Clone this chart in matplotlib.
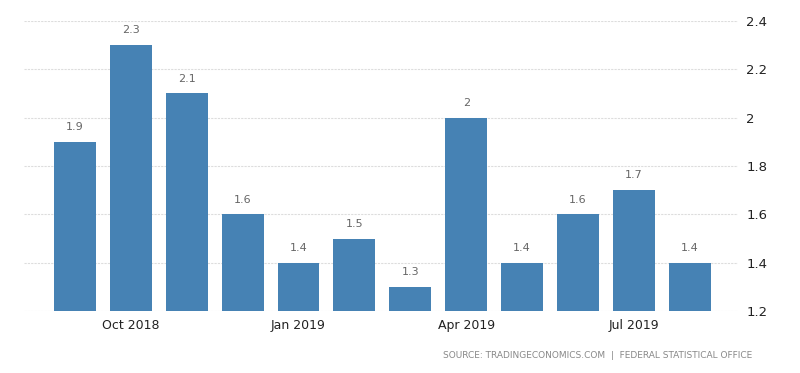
import numpy as np
import matplotlib.pyplot as plt

# data
months = ["Sep 2018", "Oct 2018", "Nov 2018", "Dec 2018", "Jan 2019", "Feb 2019",
          "Mar 2019", "Apr 2019", "May 2019", "Jun 2019", "Jul 2019", "Aug 2019"]
values = [1.9, 2.3, 2.1, 1.6, 1.4, 1.5, 1.3, 2.0, 1.4, 1.6, 1.7, 1.4]
value_labels = ["1.9", "2.3", "2.1", "1.6", "1.4", "1.5", "1.3", "2", "1.4", "1.6", "1.7", "1.4"]
tick_months = ["Oct 2018", "Jan 2019", "Apr 2019", "Jul 2019"]
yticks = [1.2, 1.4, 1.6, 1.8, 2.0, 2.2, 2.4]
ytick_labels = ["1.2", "1.4", "1.6", "1.8", "2", "2.2", "2.4"]

plt.rcParams["font.family"] = ["DejaVu Sans"]

fig = plt.figure(figsize=(8, 3.73), dpi=100)
ax = fig.add_axes([0.03, 0.166, 0.8925, 0.778])

x = np.arange(len(months))
base = 1.2
ax.bar(x, np.array(values) - base, bottom=base, width=0.75, color="#4682b4", zorder=2)

for xi, v, lab in zip(x, values, value_labels):
    ax.text(xi, v + 0.04, lab, ha="center", va="bottom", fontsize=8, color="#666666")

ax.set_ylim(1.2, 2.4)
ax.set_xlim(-0.91, 11.86)
ax.set_yticks(yticks)
ax.set_yticklabels(ytick_labels)
ax.yaxis.tick_right()
ax.tick_params(axis="y", length=0, pad=6, labelsize=9.5, labelcolor="#222222")

ax.set_xticks([months.index(m) for m in tick_months])
ax.set_xticklabels(tick_months)
ax.tick_params(axis="x", length=0, pad=6, labelsize=9, labelcolor="#222222")

ax.grid(axis="y", color="#dddddd", linestyle=(0, (2, 1)), linewidth=0.8, zorder=0)
for s in ax.spines.values():
    s.set_visible(False)

fig.text(0.94, 0.035, "SOURCE: TRADINGECONOMICS.COM  |  FEDERAL STATISTICAL OFFICE",
         ha="right", va="bottom", fontsize=6.5, color="#888888")

fig.savefig("out.png", dpi=100)
